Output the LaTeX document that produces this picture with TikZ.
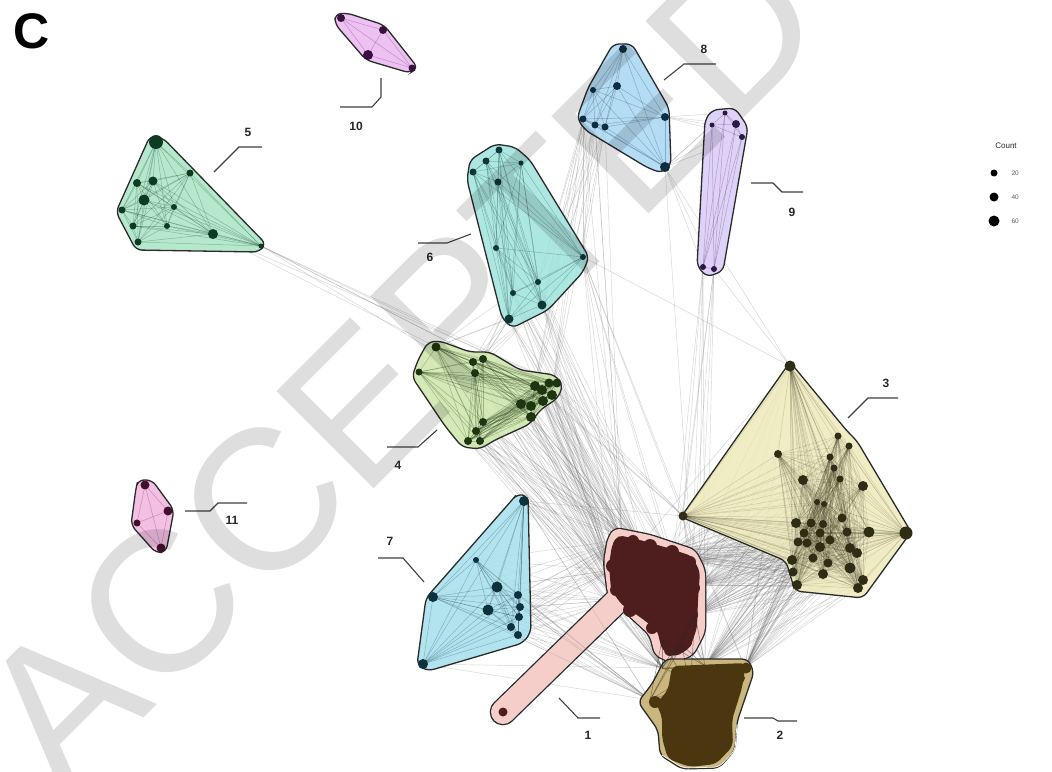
\documentclass[tikz,border=0pt]{standalone}
\usepackage{fontspec}
\setmainfont{Liberation Sans}
\definecolor{colFf}{HTML}{A9E5C5}\definecolor{colFd}{HTML}{0E3B24}
\definecolor{colSf}{HTML}{9FE3DC}\definecolor{colSd}{HTML}{0D3836}
\definecolor{colEf}{HTML}{A7D6F3}\definecolor{colEd}{HTML}{0E2D42}
\definecolor{colNf}{HTML}{DACBF7}\definecolor{colNd}{HTML}{2A1845}
\definecolor{colTf}{HTML}{EBB8F1}\definecolor{colTd}{HTML}{3B1040}
\definecolor{colQf}{HTML}{CDE6AA}\definecolor{colQd}{HTML}{1D3510}
\definecolor{colVf}{HTML}{A5E0EE}\definecolor{colVd}{HTML}{0D323E}
\definecolor{colLf}{HTML}{F2B6DF}\definecolor{colLd}{HTML}{43102B}
\definecolor{colHf}{HTML}{EEE9BA}\definecolor{colHd}{HTML}{302D16}
\definecolor{colAf}{HTML}{F5CEC9}\definecolor{colAd}{HTML}{4E1E1E}
\definecolor{colBf}{HTML}{CBB67E}\definecolor{colBd}{HTML}{4A3710}
\definecolor{hullline}{HTML}{2A2A2A}
\newcommand\allpairs[3]{\foreach \i in {1,...,#2}{\foreach \j in {1,...,#2}{\ifnum\j>\i\relax\draw[#3] (#1-\i) -- (#1-\j);\fi}}}
\newcommand\putdots[3]{\foreach \x/\y/\r [count=\i] in #2 {\fill[#3] (#1-\i) circle[radius=\r pt];}}
\newcommand\mkcoords[2]{\foreach \x/\y/\r [count=\i] in #2 {\coordinate (#1-\i) at (\x,\y);}}
\newcommand\bund[2]{\foreach \s in {#1}{\foreach \t in {#2}{\draw[iedge] (\s) -- (\t);}}}
\def\lfive{156/142/7, 190/173/3.5, 137/183/4, 153/181/4.5, 144/200/5.5, 122/210/3.5, 174/207/3, 133/226/3.5, 167/226/3, 138/242/3.5, 213/234/5, 261/246/2.5}
\def\lsix{499/150/3.5, 486/161/3.5, 521/163/2.5, 473/172/3.5, 498/182/3.5, 496/248/3, 583/257/3, 538/282/3, 513/293/3, 542/305/4.5, 509/319/4.5}
\def\leight{623/49/4, 617/86/4, 593/90/3, 583/119/3.5, 595/125/3.5, 605/127/3.5, 665/117/4, 665/167/5}
\def\lnine{725/113/2.5, 712/125/2.5, 736/124/4, 742/137/3, 703/267/3, 714/269/3}
\def\lten{341/18/4, 383/30/4, 368/55/5, 412/68/3.5}
\def\leleven{145/485/4.5, 168/511/4.5, 137/523/3.5, 161/548/4.5}
\def\lfour{436/347/4.5, 419/372/3.5, 473/362/4, 483/359/4, 475/373/4, 535/386/5, 542/390/5, 549/383/4.5, 557/383/4.5, 552/395/5, 543/401/5, 521/404/5, 531/406/5, 531/417/5, 483/422/4, 476/431/4, 468/441/4, 480/441/4}
\def\lseven{524/501/5, 476/560/3, 497/587/5.5, 433/597/5, 518/595/4, 520/607/4, 488/610/5.5, 519/617/4, 511/627/4, 518/635/4, 423/664/5}
\def\lthree{790/366/5.5, 683/516/4.5, 906/533/6.5, 838/436/3.5, 849/446/3.5, 778/454/4, 830/457/3.5, 834/468/3.5, 803/480/5, 840/479/3.5, 863/486/5, 817/502/3, 824/504/3, 842/518/4.5, 796/523/5, 811/523/4.5, 823/524/4, 869/532/5.5, 847/532/4.5, 804/533/4.5, 820/533/4.5, 798/542/4.5, 830/540/4.5, 807/543/4.5, 820/547/5, 850/548/5, 857/553/5, 813/558/4.5, 828/563/4.5, 792/560/5, 850/568/5.5, 793/572/4.5, 823/574/5, 863/580/5, 797/585/5, 858/588/5}
\def\lone{503/712/4.5}
\def\lbump{620/545/7, 633/541/6, 650/546/7, 672/552/7, 690/562/6, 694/588/6, 692/615/6, 686/642/6, 670/650/6, 652/628/6, 630/610/7, 616/590/6, 613/566/7, 640/580/12, 665/590/12, 675/620/10}
\def\ltwo{655/702/6, 746/668/5.5, 722/692/7, 740/678/5}
\def\lba{622/540/0, 640/545/0, 668/552/0, 692/562/0, 699/585/0, 695/615/0, 682/645/0, 612/570/0, 618/600/0, 662/640/0}
\def\lda{662/668/0, 705/666/0, 745/668/0, 650/700/0, 690/690/0, 720/690/0}
\begin{document}
\begin{tikzpicture}[x=1pt,y=-1pt,
  hull/.style={draw=hullline, line width=1.3pt, rounded corners=6pt, fill opacity=0.85},
  iedge/.style={draw=black!60, opacity=0.28, line width=0.45pt},
  intra/.style={draw=#1, opacity=0.28, line width=0.5pt},
  lead/.style={draw=black!75, line width=1.1pt},
  lab/.style={font=\bfseries\fontsize{12}{14}\selectfont, text=black!85},
]
\useasboundingbox (0,0) rectangle (1052,771);
\fill[white] (0,0) rectangle (1052,771);
% coordinates
\mkcoords{c5}{\lfive}\mkcoords{c6}{\lsix}\mkcoords{c8}{\leight}\mkcoords{c9}{\lnine}
\mkcoords{c10}{\lten}\mkcoords{c11}{\leleven}\mkcoords{c4}{\lfour}\mkcoords{c7}{\lseven}
\mkcoords{c3}{\lthree}\mkcoords{c1}{\lone}\mkcoords{cb}{\lbump}\mkcoords{c2}{\ltwo}
\mkcoords{ba}{\lba}\mkcoords{da}{\lda}
% inter-cluster edges
\foreach \k in {1,...,18}{\bund{c4-\k}{ba-1,ba-2,ba-8,ba-9,da-1}}
\foreach \k in {6,...,11}{\bund{c6-\k}{ba-1,ba-2,ba-3,ba-8,da-2}}
\foreach \k in {3,4,5,6}{\bund{c8-\k}{c6-7,c6-8,c6-10,c4-10,c4-13,ba-1}}
\foreach \k in {7,8}{\bund{c8-\k}{c9-1,c9-2,c9-3,c9-4}}
\bund{c8-8}{c9-5,c9-6,ba-4,c3-1}
\foreach \k in {5,6}{\bund{c9-\k}{da-1,da-2,ba-4,ba-5,c3-2}}
\bund{c5-12}{c4-7,c4-8,c4-9,c4-10,c4-12}
\bund{c5-11}{c4-9,c4-11}
\bund{c6-7}{c3-1,da-3,c3-2}
\foreach \k in {1,...,11}{\bund{c7-\k}{ba-8,ba-9,ba-1,da-1,da-4}}
\foreach \k in {1,...,36}{\bund{c3-\k}{ba-3,ba-4,ba-5,ba-6,da-2,da-3}}
\bund{c3-1}{ba-2,ba-4,c9-6}
\foreach \k in {6,7,8,9}{\bund{c4-\k}{c3-2}}
\bund{c7-1}{c3-2,ba-3}
\foreach \k in {9,10,11}{\bund{c6-\k}{c4-1,c4-3,c4-4,c4-5}}
% hulls
\filldraw[hull, fill=colFf] (150,136) -- (163,138) -- (266,244) -- (259,252) -- (136,250) -- (116,212) -- cycle;
\filldraw[hull, fill=colSf] (470,160) -- (495,144) -- (515,147) -- (530,160) -- (589,257) -- (583,272) -- (548,310) -- (512,328) -- (502,318) -- (467,180) -- cycle;
\filldraw[hull, fill=colEf] (613,44) -- (632,44) -- (669,108) -- (671,165) -- (662,173) -- (648,168) -- (585,130) -- (577,118) -- (588,88) -- cycle;
\filldraw[hull, fill=colNf] (712,110) -- (735,108) -- (748,127) -- (723,271) -- (707,277) -- (697,266) -- (705,120) -- cycle;
\filldraw[hull, fill=colTf] (335,14) -- (347,13) -- (384,25) -- (418,68) -- (410,73) -- (366,60) -- (335,24) -- cycle;
\filldraw[hull, fill=colLf] (138,480) -- (152,480) -- (174,510) -- (166,552) -- (156,553) -- (131,525) -- (136,488) -- cycle;
\filldraw[hull, fill=colQf] (428,342) -- (440,341) -- (470,352) -- (490,352) -- (520,370) -- (555,375) -- (563,385) -- (558,398) -- (540,410) -- (530,424) -- (495,440) -- (480,449) -- (462,447) -- (445,426) -- (412,377) -- (418,360) -- cycle;
\filldraw[hull, fill=colVf] (517,494) -- (528,496) -- (531,632) -- (523,643) -- (428,671) -- (417,665) -- (426,598) -- (512,500) -- cycle;
\filldraw[hull, fill=colHf] (790,362) -- (847,431) -- (857,441) -- (911,532) -- (863,598) -- (795,591) -- (786,561) -- (681,517) -- cycle;
% cluster 1 (capsule + blob)
\draw[line width=26.6pt, draw=hullline, line cap=round] (c1-1) -- (ba-9);
\draw[line width=2.6pt, draw=hullline, rounded corners=6pt] (615,528) -- (650,535) -- (695,550) -- (705,570) -- (705,632) -- (693,655) -- (672,663) -- (655,655) -- (650,635) -- (625,612) -- (608,595) -- (604,562) -- (608,538) -- cycle;
\draw[line width=24pt, draw=colAf, line cap=round] (c1-1) -- (ba-9);
\fill[colAf, rounded corners=6pt] (615,528) -- (650,535) -- (695,550) -- (705,570) -- (705,632) -- (693,655) -- (672,663) -- (655,655) -- (650,635) -- (625,612) -- (608,595) -- (604,562) -- (608,538) -- cycle;
\foreach \k in {1,...,6}{\draw[draw=black!45, opacity=0.35, line width=0.45pt] (c7-\k) -- (da-4);}
\fill[colAd, rounded corners=5pt] (618,535) -- (640,540) -- (668,548) -- (692,556) -- (700,572) -- (698,600) -- (697,628) -- (690,648) -- (675,657) -- (662,650) -- (657,630) -- (640,617) -- (622,605) -- (611,590) -- (609,565) -- (612,545) -- cycle;
\putdots{cb}{\lbump}{colAd}
% cluster 2
\filldraw[draw=hullline, line width=1.3pt, fill=colBf, rounded corners=6pt] (665,659) -- (748,659) -- (754,672) -- (737,722) -- (735,750) -- (719,768) -- (682,769) -- (660,755) -- (658,730) -- (638,702) -- (652,684) -- cycle;
\foreach \s in {ba-6,ba-7,ba-10}{\foreach \t in {da-1,da-2,da-5,da-4}{\draw[draw=black!85, opacity=0.45, line width=0.6pt] (\s) -- (\t);}}
\foreach \s in {da-1,da-4}{\foreach \t in {da-2,da-3,da-6}{\draw[draw=colBd, opacity=0.5, line width=0.5pt] (\s) -- (\t);}}
\fill[colBd, rounded corners=6pt] (672,666) -- (746,663) -- (742,688) -- (732,720) -- (733,746) -- (716,764) -- (690,767) -- (668,759) -- (662,738) -- (662,716) -- (656,704) -- (668,690) -- cycle;
\draw[white!85!colBf, line width=0.8pt, rounded corners=5pt] (737,724) -- (735,750) -- (719,767) -- (683,768) -- (662,755);
% intra-cluster edges
\allpairs{c5}{12}{intra=colFd}
\allpairs{c6}{11}{intra=colSd}
\allpairs{c8}{8}{intra=colEd}
\allpairs{c9}{6}{intra=colNd}
\allpairs{c10}{4}{intra=colTd}
\allpairs{c11}{4}{intra=colLd}
\allpairs{c4}{18}{intra=colQd}
\allpairs{c7}{11}{intra=colVd}
\allpairs{c3}{36}{draw=colHd, opacity=0.16, line width=0.5pt}
% node dots
\putdots{c5}{\lfive}{colFd}\putdots{c6}{\lsix}{colSd}\putdots{c8}{\leight}{colEd}
\putdots{c9}{\lnine}{colNd}\putdots{c10}{\lten}{colTd}\putdots{c11}{\leleven}{colLd}
\putdots{c4}{\lfour}{colQd}\putdots{c7}{\lseven}{colVd}\putdots{c3}{\lthree}{colHd}
\putdots{c1}{\lone}{colAd}\putdots{c2}{\ltwo}{colBd}
% leaders and labels
\draw[lead] (214,172) -- (239,147) -- (262,147);
\node[lab] (l5) at (248,132) {5};
\draw[lead] (471,234) -- (447,243) -- (418,243);
\node[lab] (l6) at (430,257) {6};
\draw[lead] (664,80) -- (684,64) -- (716,64);
\node[lab] (l8) at (704,49) {8};
\draw[lead] (751,183) -- (773,183) -- (782,192) -- (803,192);
\node[lab] (l9) at (792,212) {9};
\draw[lead] (381,78) -- (381,97) -- (372,107) -- (340,107);
\node[lab] (l10) at (356,126) {10};
\draw[lead] (437,430) -- (418,447) -- (387,447);
\node[lab] (l4) at (398,465) {4};
\draw[lead] (424,582) -- (403,558) -- (378,558);
\node[lab] (l7) at (390,541) {7};
\draw[lead] (185,511) -- (210,511) -- (218,503) -- (247,503);
\node[lab] (l11) at (232,520) {11};
\draw[lead] (848,418) -- (868,398) -- (898,398);
\node[lab] (l3) at (886,383) {3};
\draw[lead] (559,698) -- (578,718) -- (600,718);
\node[lab] (l1) at (588,735) {1};
\draw[lead] (744,718) -- (773,718) -- (778,721) -- (797,721);
\node[lab] (l2) at (780,735) {2};
% legend
\node[font=\fontsize{8}{9}\selectfont, text=black!85] (cnt) at (1006,146) {Count};
\fill[black] (994,173) circle[radius=3.5pt];
\fill[black] (994,197) circle[radius=4.5pt];
\fill[black] (994,221) circle[radius=5.5pt];
\node[font=\fontsize{6.5}{7}\selectfont, text=black!65, anchor=west] (n20) at (1008,173) {20};
\node[font=\fontsize{6.5}{7}\selectfont, text=black!65, anchor=west] (n40) at (1008,197) {40};
\node[font=\fontsize{6.5}{7}\selectfont, text=black!65, anchor=west] (n60) at (1008,221) {60};
% panel letter
\node[font=\bfseries\fontsize{50}{50}\selectfont] (panel) at (32,31) {C};
% watermark
\node[rotate=45, font=\fontsize{200}{200}\selectfont, text=black, opacity=0.13] (wm) at (400,365) {ACCEPTED};
\end{tikzpicture}
\end{document}
